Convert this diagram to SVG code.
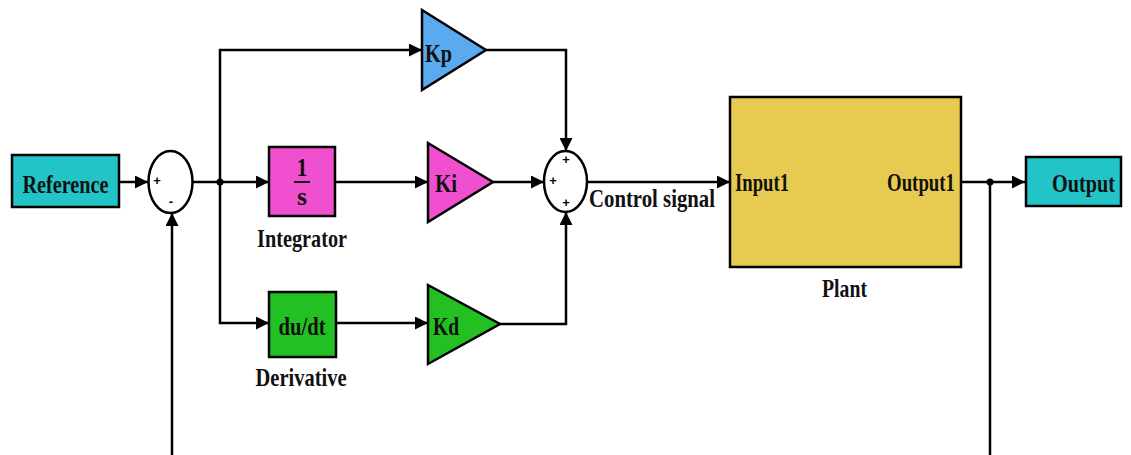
<svg xmlns="http://www.w3.org/2000/svg" width="1131" height="455" viewBox="0 0 1131 455">
<defs>
<marker id="arr" markerUnits="userSpaceOnUse" markerWidth="13" markerHeight="13" refX="13" refY="6.5" orient="auto">
<path d="M0,0 L13,6.5 L0,13 z" fill="#000"/>
</marker>
<style>
.blk{stroke:#000;stroke-width:2.5}
.t{font-family:"Liberation Serif","Times New Roman",serif;font-weight:bold;font-size:26px;fill:#111;text-anchor:middle}
.s{font-family:"Liberation Sans",Arial,sans-serif;font-weight:bold;font-size:13px;fill:#000;text-anchor:middle}
.w{fill:none;stroke:#000;stroke-width:2.5}
.a{marker-end:url(#arr)}
</style>
</defs>
<rect width="1131" height="455" fill="#fff"/>
<g id="connectors">
<path class="w a" d="M119,182 H148"/>
<path class="w a" d="M192,182 H269"/>
<path class="w a" d="M220,182 V50 H422"/>
<path class="w a" d="M220,182 V323 H269"/>
<path class="w a" d="M335,182 H428"/>
<path class="w a" d="M336,323 H428"/>
<path class="w a" d="M486,50 H566 V151"/>
<path class="w a" d="M493,182 H544"/>
<path class="w a" d="M500,324 H566 V212"/>
<path class="w a" d="M587,182 H730"/>
<path class="w a" d="M961,182 H1025"/>
<path class="w" d="M990,182 V460"/>
<path class="w a" d="M172,460 V213"/>
<circle cx="220" cy="182" r="3.5" fill="#000"/>
<circle cx="990" cy="182" r="3.5" fill="#000"/>
</g>
<g id="reference">
<rect class="blk" x="12" y="155" width="107" height="52" fill="#22c4c8"/>
<text class="t" x="65.5" y="193" textLength="86" lengthAdjust="spacingAndGlyphs">Reference</text>
</g>
<g id="sum1">
<ellipse class="blk" cx="170.5" cy="182" rx="22" ry="31" fill="#fff"/>
<text class="s" x="157" y="185">+</text>
<text class="s" x="171" y="206">-</text>
</g>
<g id="integrator">
<rect class="blk" x="269" y="147" width="66" height="69" fill="#f050d0"/>
<text class="t" x="302" y="176" textLength="11" lengthAdjust="spacingAndGlyphs">1</text>
<line x1="294" y1="182" x2="310" y2="182" stroke="#111" stroke-width="2"/>
<text class="t" x="302" y="205" textLength="10" lengthAdjust="spacingAndGlyphs">s</text>
<text class="t" x="302" y="247" textLength="90" lengthAdjust="spacingAndGlyphs">Integrator</text>
</g>
<g id="derivative">
<rect class="blk" x="269" y="292" width="67" height="65" fill="#22c022"/>
<text class="t" x="302" y="335" textLength="47" lengthAdjust="spacingAndGlyphs">du/dt</text>
<text class="t" x="301" y="386" textLength="91" lengthAdjust="spacingAndGlyphs">Derivative</text>
</g>
<g id="kp">
<path class="blk" d="M422,10 L486,50 L422,90 Z" fill="#5aaaf0"/>
<text class="t" x="438.5" y="62" textLength="27" lengthAdjust="spacingAndGlyphs">Kp</text>
</g>
<g id="ki">
<path class="blk" d="M428,143 L493,182 L428,222 Z" fill="#f050d0"/>
<text class="t" x="446" y="192" textLength="22" lengthAdjust="spacingAndGlyphs">Ki</text>
</g>
<g id="kd">
<path class="blk" d="M428,285 L500,324 L428,364 Z" fill="#22c022"/>
<text class="t" x="446" y="335" textLength="26" lengthAdjust="spacingAndGlyphs">Kd</text>
</g>
<g id="sum2">
<ellipse class="blk" cx="565.5" cy="181.5" rx="21.5" ry="30.5" fill="#fff"/>
<text class="s" x="566" y="164">+</text>
<text class="s" x="553" y="185">+</text>
<text class="s" x="566" y="207">+</text>
<text class="t" x="652" y="207" textLength="126" lengthAdjust="spacingAndGlyphs">Control signal</text>
</g>
<g id="plant">
<rect class="blk" x="730" y="97" width="231" height="170" fill="#e6cb50"/>
<text class="t" x="762" y="191" textLength="54" lengthAdjust="spacingAndGlyphs">Input1</text>
<text class="t" x="921" y="191" textLength="68" lengthAdjust="spacingAndGlyphs">Output1</text>
<text class="t" x="844.5" y="297" textLength="45" lengthAdjust="spacingAndGlyphs">Plant</text>
</g>
<g id="output">
<rect class="blk" x="1026" y="157" width="95" height="49" fill="#22c4c8"/>
<text class="t" x="1083.5" y="192" textLength="63" lengthAdjust="spacingAndGlyphs">Output</text>
</g>
</svg>
